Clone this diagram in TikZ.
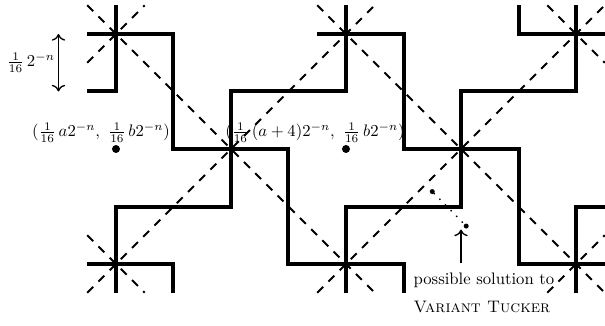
\documentclass[tikz,border=0pt]{standalone}
\usetikzlibrary{arrows.meta}
\begin{document}
\begin{tikzpicture}[x=34.5pt,y=34.5pt,
  thickline/.style={line width=2.4pt},
  diag/.style={line width=1.1pt, dash pattern=on 5pt off 4.5pt},
  bigdot/.style={circle,fill,inner sep=0pt,minimum size=4.8pt},
  smalldot/.style={circle,fill,inner sep=0pt,minimum size=3pt},
  arr/.style={line width=0.8pt,-{Computer Modern Rightarrow[length=4pt,width=8pt]}},
  dblarr/.style={line width=0.8pt,{Computer Modern Rightarrow[length=4pt,width=8pt]}-{Computer Modern Rightarrow[length=4pt,width=8pt]}},
  lbl/.style={inner sep=0pt, anchor=base},
  txt/.style={inner sep=0pt, anchor=base west}]
\useasboundingbox (-2.017,-1.061) rectangle (8.504,4.591);

% dashed diagonals
\draw[diag] (-0.5,4.5) -- (4.5,-0.5);
\draw[diag] (3.5,4.5) -- (8.5,-0.5);
\draw[diag] (-0.5,-0.5) -- (4.5,4.5);
\draw[diag] (3.5,-0.5) -- (8.5,4.5);
\draw[diag] (-0.5,3.5) -- (0.5,4.5);
\draw[diag] (7.5,4.5) -- (8.5,3.5);
\draw[diag] (-0.5,0.5) -- (0.5,-0.5);
\draw[diag] (7.5,-0.5) -- (8.5,0.5);

% thick staircases
\draw[thickline] (-0.5,4) -| (1,2) -| (3,0) -| (5,-0.5);
\draw[thickline] (0,4.5) |- (-0.5,3);
\draw[thickline] (4,4.5) -- (4,3) -- (2,3) -- (2,1) -- (0,1) -- (0,-0.5);
\draw[thickline] (-0.5,0) -| (1,-0.5);
\draw[thickline] (3.5,4) -| (5,2) -| (7,0) -- (8.5,0);
\draw[thickline] (8,4.5) -- (8,3) -- (6,3) -- (6,1) -- (4,1) -- (4,-0.5);
\draw[thickline] (7,4.5) |- (8.5,4);
\draw[thickline] (8.5,1) -| (8,-0.5);

% scale arrow
\coordinate (h1) at (-1,3);
\coordinate (h2) at (-1,4);
\draw[dblarr] (h1) -- (h2);
\node[lbl] (sc) at (-1.48,3.43) {$\frac{1}{16}\,2^{-n}$};

% points and labels
\node[bigdot] (p1) at (0,2) {};
\node[bigdot] (p2) at (4,2) {};
\node[lbl] (l1) at (-0.26,2.21) {$(\frac{1}{16}\,a2^{-n},\ \frac{1}{16}\,b2^{-n})$};
\node[lbl] (l2) at (3.46,2.21) {$(\frac{1}{16}\,(a+4)2^{-n},\ \frac{1}{16}\,b2^{-n})$};

% possible solution
\node[smalldot] (s1) at (5.5,1.26) {};
\node[smalldot] (s2) at (6.09,0.66) {};
\draw[line width=1.2pt, line cap=round, dash pattern=on 0pt off 4.8pt] (s1) -- (s2);
\coordinate (at1) at (6,0.02);
\coordinate (at2) at (6,0.6);
\draw[arr] (at1) -- (at2);
\node[txt] (t1) at (5.17,-0.365) {possible solution to};
\node[txt] (t2) at (5.17,-0.85) {\textsc{Variant Tucker}};
\end{tikzpicture}
\end{document}
